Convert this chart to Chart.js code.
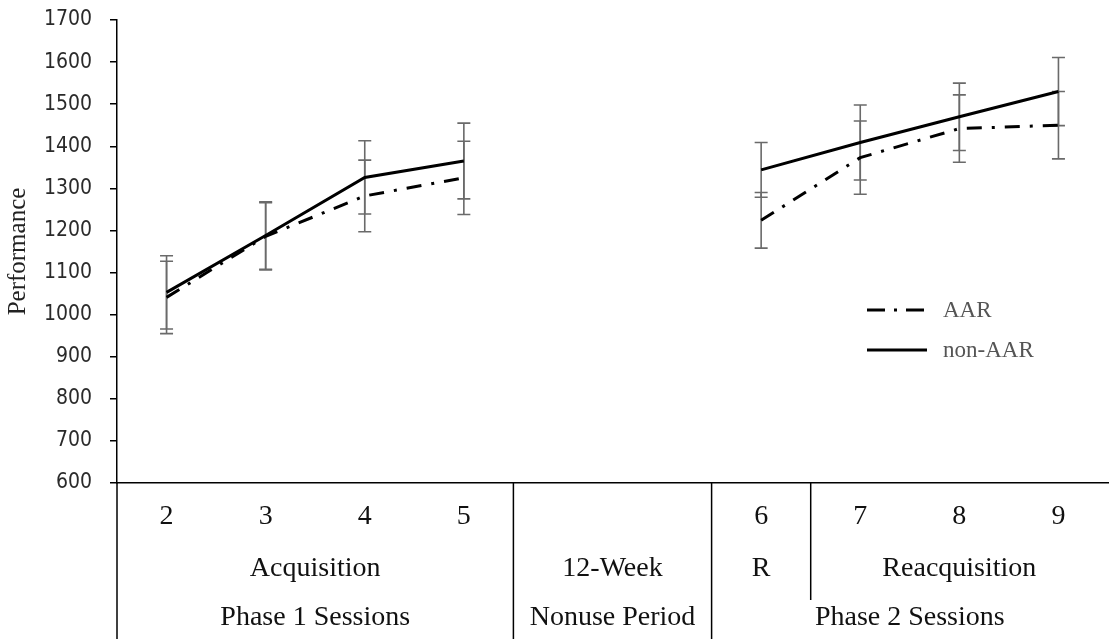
<!DOCTYPE html>
<html>
<head>
<meta charset="utf-8">
<script src="https://cdn.jsdelivr.net/npm/chart.js@4.4.1/dist/chart.umd.min.js"></script>
<style>
  html, body { margin: 0; padding: 0; background: #ffffff; }
  #wrap { width: 1111px; height: 639px; position: relative; }
</style>
</head>
<body>
<div id="wrap"><canvas id="c"></canvas></div>
<script>
// ---- data ----
const categories = ['2', '3', '4', '5', '', '', '6', '7', '8', '9'];
const aarValues    = [1041, 1186, 1282, 1325, null, null, 1224, 1373, 1442, 1450];
const aarErrors    = [86, 80, 85, 87, null, null, 66, 87, 80, 80];
const nonAarValues = [1053, 1188, 1326, 1365, null, null, 1344, 1409, 1470, 1530];
const nonAarErrors = [87, 80, 87, 90, null, null, 65, 89, 80, 81];
const yMin = 600, yMax = 1700, yStep = 100;
const seriesNames = ['AAR', 'non-AAR'];
const row2Groups = [
  { label: 'Acquisition', from: 0, to: 3 },
  { label: '12-Week', from: 4, to: 5 },
  { label: 'R', from: 6, to: 6 },
  { label: 'Reacquisition', from: 7, to: 9 }
];
const row3Groups = [
  { label: 'Phase 1 Sessions', from: 0, to: 3 },
  { label: 'Nonuse Period', from: 4, to: 5 },
  { label: 'Phase 2 Sessions', from: 6, to: 9 }
];

const SERIF = '"Liberation Serif", "Times New Roman", serif';
const AAR_DASH = [15, 10, 3, 10];

const errorBarPlugin = {
  id: 'errorBars',
  beforeDatasetsDraw(chart) {
    const ctx = chart.ctx, x = chart.scales.x, y = chart.scales.y;
    const sets = [[aarValues, aarErrors], [nonAarValues, nonAarErrors]];
    ctx.save();
    ctx.strokeStyle = '#6a6a6a';
    ctx.lineWidth = 1.6;
    sets.forEach(([vals, errs]) => {
      vals.forEach((v, i) => {
        if (v == null || errs[i] == null) return;
        const px = x.getPixelForValue(i);
        const top = y.getPixelForValue(v + errs[i]);
        const bot = y.getPixelForValue(v - errs[i]);
        ctx.beginPath();
        ctx.moveTo(px, top); ctx.lineTo(px, bot);
        ctx.moveTo(px - 6.5, top); ctx.lineTo(px + 6.5, top);
        ctx.moveTo(px - 6.5, bot); ctx.lineTo(px + 6.5, bot);
        ctx.stroke();
      });
    });
    ctx.restore();
  }
};

const tablePlugin = {
  id: 'categoryTable',
  afterDraw(chart) {
    const ctx = chart.ctx, x = chart.scales.x;
    const area = chart.chartArea;
    const base = area.bottom;
    const H = chart.height;
    const center = (a, b) => (x.getPixelForValue(a) + x.getPixelForValue(b)) / 2;
    const boundary = (i) => (x.getPixelForValue(i) + x.getPixelForValue(i + 1)) / 2;
    ctx.save();
    ctx.strokeStyle = '#000';
    ctx.lineWidth = 1.5;
    // left edge continuing the value axis
    ctx.beginPath();
    ctx.moveTo(area.left, base); ctx.lineTo(area.left, H);
    ctx.stroke();
    // dividers of row 3 groups (full height)
    row3Groups.slice(0, -1).forEach(g => {
      const bx = boundary(g.to);
      ctx.beginPath(); ctx.moveTo(bx, base); ctx.lineTo(bx, H); ctx.stroke();
    });
    // dividers of row 2 groups not already drawn
    const full = row3Groups.map(g => g.to);
    row2Groups.slice(0, -1).forEach(g => {
      if (full.includes(g.to)) return;
      const bx = boundary(g.to);
      ctx.beginPath(); ctx.moveTo(bx, base); ctx.lineTo(bx, base + 117); ctx.stroke();
    });
    // texts
    ctx.fillStyle = '#111';
    ctx.textAlign = 'center';
    ctx.textBaseline = 'alphabetic';
    ctx.font = '28px ' + SERIF;
    categories.forEach((c, i) => { if (c) ctx.fillText(c, x.getPixelForValue(i), base + 41); });
    row2Groups.forEach(g => ctx.fillText(g.label, center(g.from, g.to), base + 93));
    row3Groups.forEach(g => ctx.fillText(g.label, center(g.from, g.to), base + 142));

    // legend
    const lx0 = 867, tx = 943;
    const rows = [
      { name: seriesNames[0], y: 310, dash: [18, 9, 3, 9], x1: 924 },
      { name: seriesNames[1], y: 350, dash: [], x1: 927 }
    ];
    rows.forEach(r => {
      ctx.save();
      ctx.strokeStyle = '#000';
      ctx.lineWidth = 3;
      ctx.setLineDash(r.dash);
      ctx.beginPath(); ctx.moveTo(lx0, r.y); ctx.lineTo(r.x1, r.y); ctx.stroke();
      ctx.restore();
      ctx.fillStyle = '#555';
      ctx.textAlign = 'left';
      ctx.textBaseline = 'middle';
      ctx.font = '23px ' + SERIF;
      ctx.fillText(r.name, tx, r.y + 1);
    });
    ctx.restore();
  }
};

new Chart(document.getElementById('c'), {
  type: 'line',
  data: {
    labels: categories,
    datasets: [
      {
        label: seriesNames[0],
        data: aarValues,
        borderColor: '#000',
        borderWidth: 3,
        borderDash: AAR_DASH,
        pointRadius: 0,
        fill: false,
        tension: 0,
        spanGaps: false
      },
      {
        label: seriesNames[1],
        data: nonAarValues,
        borderColor: '#000',
        borderWidth: 3,
        pointRadius: 0,
        fill: false,
        tension: 0,
        spanGaps: false
      }
    ]
  },
  options: {
    responsive: true,
    maintainAspectRatio: false,
    animation: false,
    layout: { padding: { top: 20, right: 3, bottom: 0, left: 0 } },
    plugins: {
      legend: { display: false },
      tooltip: { enabled: false }
    },
    scales: {
      x: {
        type: 'category',
        offset: true,
        grid: { display: false },
        border: { display: true, color: '#000', width: 1.5 },
        ticks: { display: false },
        afterFit(scale) { scale.height = 156; }
      },
      y: {
        min: yMin,
        max: yMax,
        grid: { display: true, drawOnChartArea: false, drawTicks: true, tickLength: 7, color: '#000', lineWidth: 1.5 },
        border: { display: true, color: '#000', width: 1.5 },
        ticks: {
          stepSize: yStep,
          padding: 18,
          color: '#2a2a2a',
          font: { family: '"DejaVu Sans Condensed", "DejaVu Sans", sans-serif', size: 21 },
          callback: (v) => String(v)
        },
        title: {
          display: true,
          text: 'Performance',
          color: '#222',
          font: { family: SERIF, size: 25 },
          padding: { top: 3, bottom: 0 }
        },
        afterFit(scale) {
          scale.width = 117;
          scale.paddingTop = 0;
          scale.paddingBottom = 0;
        }
      }
    }
  },
  plugins: [errorBarPlugin, tablePlugin]
});
</script>
</body>
</html>
